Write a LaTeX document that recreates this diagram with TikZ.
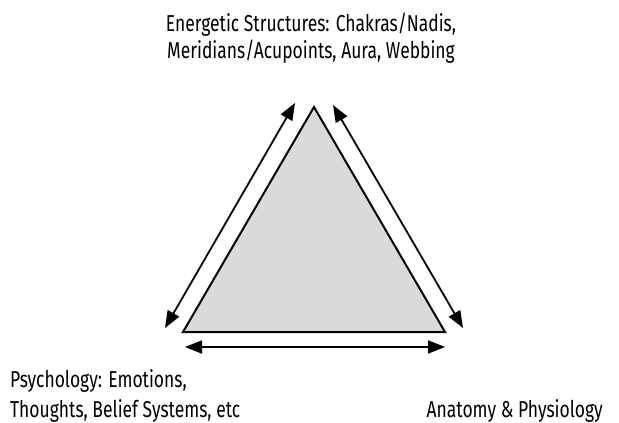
\documentclass[tikz,border=0pt]{standalone}
\usepackage{fontspec}
\setmainfont{Fira Sans}[FakeStretch=0.76]
\usetikzlibrary{arrows.meta}
\definecolor{trifill}{RGB}{217,218,220}
\begin{document}
\begin{tikzpicture}[x=1pt,y=-1pt,
  tri/.style={draw=black,line width=2pt,fill=trifill,line join=miter},
  dbl/.style={line width=1.8pt,{Triangle[length=17pt,width=13pt]}-{Triangle[length=17pt,width=13pt]}},
  lbl/.style={font=\fontsize{23}{27}\selectfont,inner sep=0pt,text=black}]
\useasboundingbox (0,0) rectangle (619,423);
\coordinate (A) at (314,107);
\coordinate (L) at (183,332);
\coordinate (R) at (445,332);
\draw[tri] (A) -- (L) -- (R) -- cycle;
\coordinate (l1) at (295,103);
\coordinate (l2) at (165,328);
\coordinate (r1) at (333,105);
\coordinate (r2) at (463,328);
\coordinate (b1) at (185,347);
\coordinate (b2) at (445,347);
\draw[dbl] (l1) -- (l2);
\draw[dbl] (r1) -- (r2);
\draw[dbl] (b1) -- (b2);
\node[lbl,anchor=base,align=center] (top) at (311,58) {Energetic Structures: Chakras/Nadis,\\Meridians/Acupoints, Aura, Webbing};
\node[lbl,anchor=base west,align=left,font=\fontsize{23}{30}\selectfont] (psy) at (10,417) {Psychology: Emotions,\\Thoughts, Belief Systems, etc};
\node[lbl,anchor=base east] (ana) at (603,417) {Anatomy \& Physiology};
\end{tikzpicture}
\end{document}
